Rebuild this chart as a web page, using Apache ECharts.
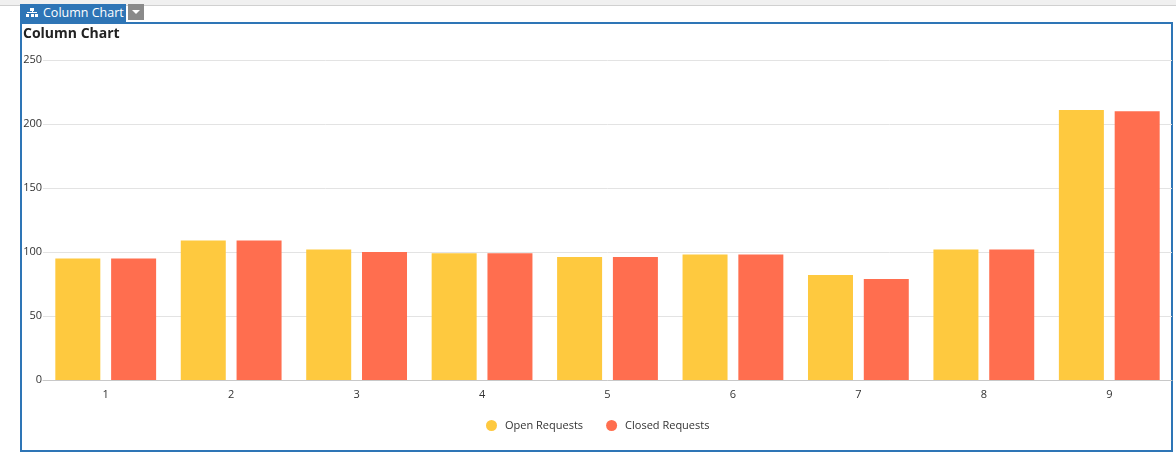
<!DOCTYPE html>
<html>
<head>
<meta charset="utf-8">
<title>Column Chart</title>
<script src="https://cdn.jsdelivr.net/npm/echarts@6/dist/echarts.min.js"></script>
<style>
  html, body { margin: 0; padding: 0; background: #fff; font-family: "Open Sans", sans-serif; }
  #topbar { position: absolute; left: 0; top: 0; width: 1176px; height: 5px; background: #f0f0f0; border-bottom: 1px solid #d0d0d0; }
  #panel { position: absolute; left: 20px; top: 22px; width: 1149px; height: 426px; border: 2px solid #2e75b6; }
  #tab { position: absolute; left: 20px; top: 4px; width: 106px; height: 18px; background: #2e75b6; color: #fff; font-size: 12.5px; line-height: 18px; }
  #tab span { position: absolute; left: 23px; top: 0; }
  #icon { position: absolute; left: 6px; top: 4px; width: 12px; height: 10px; }
  #icon i { position: absolute; background: #fff; display: block; }
  #drop { position: absolute; left: 128px; top: 4px; width: 16px; height: 16px; background: #8a8a8a; }
  #drop:after { content: ""; position: absolute; left: 4px; top: 6px; border-left: 4px solid transparent; border-right: 4px solid transparent; border-top: 4px solid #fff; }
  #chart { position: absolute; left: 0; top: 0; width: 1176px; height: 459px; }
</style>
</head>
<body>
<div id="topbar"></div>
<div id="panel"></div>
<div id="tab">
  <div id="icon">
    <i style="left:4px;top:0;width:4px;height:3px"></i>
    <i style="left:5.5px;top:3px;width:1px;height:2px"></i>
    <i style="left:1px;top:4px;width:10px;height:1px"></i>
    <i style="left:0;top:6px;width:3px;height:3px"></i>
    <i style="left:4.5px;top:6px;width:3px;height:3px"></i>
    <i style="left:9px;top:6px;width:3px;height:3px"></i>
  </div>
  <span>Column Chart</span>
</div>
<div id="drop"></div>
<div id="chart"></div>
<script>
var categories = ['1', '2', '3', '4', '5', '6', '7', '8', '9'];
var openRequests = [95, 109, 102, 99, 96, 98, 82, 102, 211];
var closedRequests = [95, 109, 100, 99, 96, 98, 79, 102, 210];
var seriesNames = ['Open Requests', 'Closed Requests'];
var colors = ['#fec93f', '#ff6e4f'];

var myChart = echarts.init(document.getElementById('chart'));

var option = {
    backgroundColor: 'transparent',
    color: colors,
    textStyle: { fontFamily: 'Open Sans' },
    title: {
        text: 'Column Chart',
        left: 18,
        top: 22,
        textStyle: { fontSize: 14, fontWeight: 'bold', color: '#222', fontFamily: 'Open Sans' }
    },
    legend: {
        data: seriesNames,
        bottom: 23,
        left: 481,
        icon: 'circle',
        itemWidth: 11,
        itemHeight: 11,
        itemGap: 23,
        textStyle: { fontSize: 11, color: '#333', padding: [0, 0, 0, 3] }
    },
    grid: {
        left: 43,
        right: 4,
        top: 60,
        bottom: 79,
        containLabel: false
    },
    xAxis: {
        type: 'category',
        data: categories,
        axisTick: { show: false },
        axisLine: { lineStyle: { color: '#c8c8c8' } },
        axisLabel: { color: '#333', fontSize: 11, margin: 9 }
    },
    yAxis: {
        type: 'value',
        min: 0,
        max: 250,
        interval: 50,
        axisLine: { show: false },
        axisTick: { show: false },
        axisLabel: { color: '#333', fontSize: 11, margin: 1 },
        splitLine: { lineStyle: { color: '#e3e3e3' } }
    },
    series: [
        {
            name: seriesNames[0],
            type: 'bar',
            data: openRequests,
            barWidth: 45,
            barGap: '24%'
        },
        {
            name: seriesNames[1],
            type: 'bar',
            data: closedRequests,
            barWidth: 45,
            barGap: '24%'
        }
    ]
};

myChart.setOption(option);
</script>
</body>
</html>
